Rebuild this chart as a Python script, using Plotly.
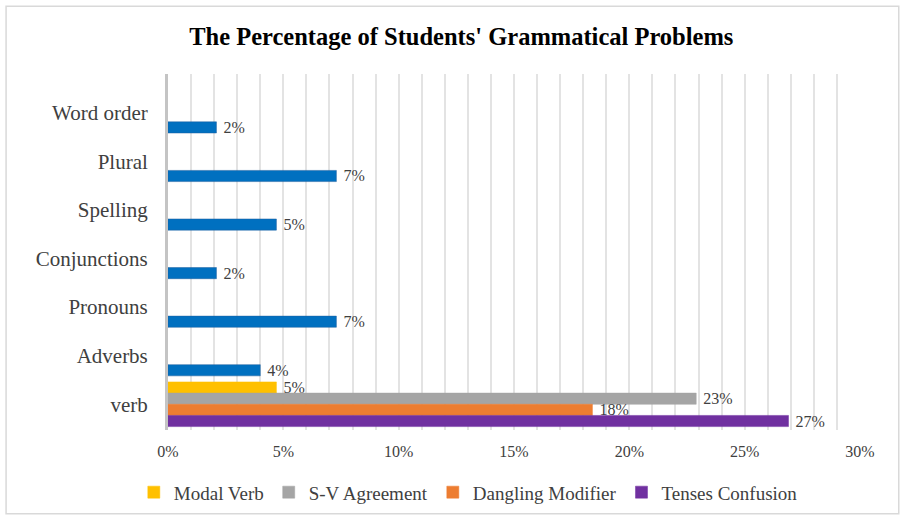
import plotly.graph_objects as go

# ---- data ----
categories = ["verb", "Adverbs", "Pronouns", "Conjunctions", "Spelling", "Plural", "Word order"]
other_categories = ["Adverbs", "Pronouns", "Conjunctions", "Spelling", "Plural", "Word order"]
other_values = [4.0, 7.3, 2.1, 4.7, 7.3, 2.1]

verb_series = ["Modal Verb", "S-V Agreement", "Dangling Modifier", "Tenses Confusion"]
verb_values = [4.7, 22.9, 18.4, 26.9]
verb_colors = ["#FFC000", "#A5A5A5", "#ED7D31", "#7030A0"]
verb_offsets = [0.23, 0.0, -0.23, -0.46]

x_ticks = [0, 5, 10, 15, 20, 25, 30]
x_tick_labels = ["0%", "5%", "10%", "15%", "20%", "25%", "30%"]

FONT = "Liberation Serif"
TXT = "#404040"
BAR_W = 0.23

fig = go.Figure()

fig.add_trace(go.Bar(
    y=other_categories, x=other_values, orientation="h", name="Other",
    marker=dict(color="#0070C0", line=dict(color="#1F5F9F", width=0.5)),
    offset=-0.415, width=BAR_W, showlegend=False,
    texttemplate=" %{x:.0f}%", textposition="outside", cliponaxis=False,
    constraintext="none",
    textfont=dict(family=FONT, size=16, color=TXT),
))

for name, val, col, off in zip(verb_series, verb_values, verb_colors, verb_offsets):
    fig.add_trace(go.Bar(
        y=["verb"], x=[val], orientation="h", name=name,
        marker=dict(color=col, line=dict(color=col, width=0.5)),
        offset=off, width=BAR_W,
        texttemplate=" %{x:.0f}%", textposition="outside", cliponaxis=False,
        constraintext="none",
        textfont=dict(family=FONT, size=16, color=TXT),
    ))

fig.update_layout(
    width=901, height=523,
    paper_bgcolor="white", plot_bgcolor="white",
    margin=dict(l=168, r=41, t=74, b=91),
    barmode="overlay",
    title=dict(text="<b>The Percentage of Students' Grammatical Problems</b>",
               x=0.512, xanchor="center", y=0.93, yanchor="middle",
               font=dict(family=FONT, size=24.5, color="black")),
    xaxis=dict(range=[0, 30], tickmode="array", tickvals=x_ticks, ticktext=x_tick_labels,
               showgrid=True, gridcolor="#E3E3E3", gridwidth=2,
               minor=dict(dtick=1, showgrid=True, gridcolor="#E3E3E3", gridwidth=2),
               zeroline=False, showline=False,
               tickfont=dict(family=FONT, size=16, color=TXT),
               ticklabelstandoff=10),
    yaxis=dict(type="category", categoryorder="array", categoryarray=categories,
               range=[-0.53, 6.8], showgrid=False, zeroline=False,
               showline=True, linecolor="#C4C4C4", linewidth=3,
               tickfont=dict(family=FONT, size=21, color=TXT),
               ticklabelstandoff=13),
    legend=dict(orientation="h", x=0.434, xanchor="center", y=-0.175, yanchor="middle",
                font=dict(family=FONT, size=19, color=TXT), traceorder="normal",
                itemwidth=30),
    shapes=[dict(type="rect", xref="paper", yref="paper",
                 x0=-0.234, x1=1.056, y0=-0.235, y1=1.19,
                 line=dict(color="#D9D9D9", width=1.5), layer="below")],
)

fig.write_html("out.html", config={"displayModeBar": False},
               post_script="document.body.style.margin='0';")
